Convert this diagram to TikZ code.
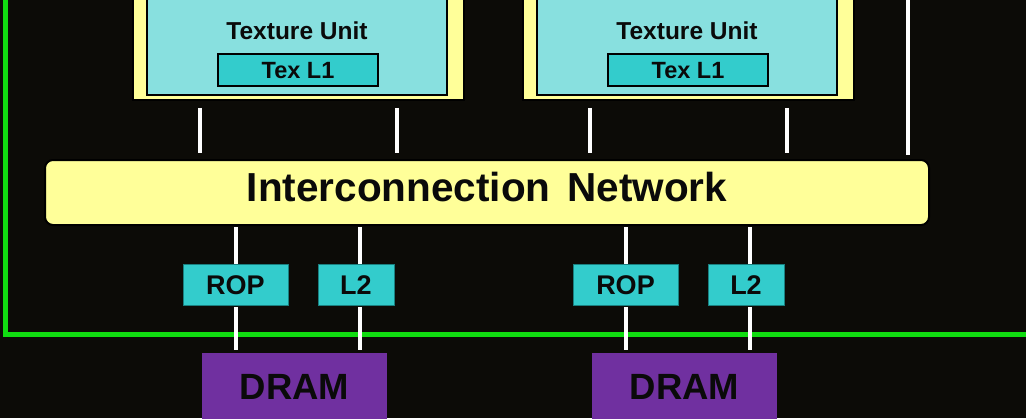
\documentclass[tikz,border=0pt]{standalone}
\usepackage{fontspec}
\setmainfont{Liberation Sans}
\definecolor{bgc}{HTML}{0C0B07}
\definecolor{netyel}{HTML}{FFFF99}
\definecolor{tucyan}{HTML}{88E0DF}
\definecolor{boxcyan}{HTML}{33CCCC}
\definecolor{boxedge}{HTML}{1A8080}
\definecolor{dramc}{HTML}{7030A0}
\definecolor{grn}{HTML}{11DD11}
\definecolor{txt}{HTML}{0A0A0A}
\tikzset{
  yelbox/.style={rectangle, fill=netyel, draw=black, line width=1.5pt, inner sep=0pt},
  cyanbox/.style={rectangle, fill=tucyan, draw=black, line width=1.5pt, inner sep=0pt},
  tulabel/.style={inner sep=0pt, text=txt, font=\bfseries\fontsize{24.5}{26}\selectfont, text height=17.5pt, text depth=0pt},
  l1box/.style={rectangle, fill=boxcyan, draw=black, line width=1.5pt, inner sep=0pt, text=txt, font=\bfseries\fontsize{23.5}{25}\selectfont, text height=16.8pt, text depth=0pt},
  cbox/.style={rectangle, fill=boxcyan, draw=boxedge, line width=0.8pt, inner sep=0pt, text=txt, font=\bfseries\fontsize{27}{29}\selectfont, text height=19.3pt, text depth=0pt},
  drambox/.style={rectangle, fill=dramc, inner sep=0pt, text=txt, font=\bfseries\fontsize{36.5}{39}\selectfont, text height=26.2pt, text depth=0pt},
  netbox/.style={rectangle, rounded corners=8pt, fill=netyel, draw=black, line width=2pt, inner sep=0pt, text=txt, font=\bfseries\fontsize{40.5}{42}\selectfont, text height=29pt, text depth=12pt},
  link/.style={draw=white, line width=3.5pt},
  greenline/.style={draw=grn, line width=5pt}
}
\begin{document}
\begin{tikzpicture}[x=1pt,y=-1pt]
\useasboundingbox (0,0) rectangle (1026,418);
\fill[bgc] (0,0) rectangle (1026,418);
\clip (0,0) rectangle (1026,418);

% green boundary
\coordinate (gtop) at (5,-10);
\coordinate (gcorner) at (5,334);
\coordinate (gright) at (1040,334);
\draw[greenline] (gtop) -- (gcorner) -- (gright);

% interconnection network
\node[netbox, minimum width=884pt, minimum height=65pt] (net) at (487,192.5) {Interconnection\hspace{0.14em} Network};

\foreach \i/\dx in {1/0,2/390}{
  \node[yelbox, minimum width=331pt, minimum height=140pt] (tuo\i) at (\dx+298.5,30) {};
  \node[cyanbox, minimum width=300pt, minimum height=135pt] (tui\i) at (\dx+297,27.5) {};
  \node[tulabel] (tul\i) at (\dx+297,31) {Texture Unit};
  \node[l1box, minimum width=160pt, minimum height=32pt] (lone\i) at (\dx+298,70) {Tex L1};
  \node[cbox, minimum width=105pt, minimum height=41pt] (rop\i) at (\dx+235.5,284.5) {ROP};
  \node[cbox, minimum width=76pt, minimum height=41pt] (ltwo\i) at (\dx+356,284.5) {L2};
  \node[drambox, minimum width=185pt, minimum height=67pt] (dram\i) at (\dx+294.5,386.5) {DRAM};
  \coordinate (xa\i) at (\dx+200,0);
  \coordinate (xb\i) at (\dx+397,0);
  \coordinate (xc\i) at (\dx+236,0);
  \coordinate (xd\i) at (\dx+360,0);
  \draw[link, shorten <=7pt, shorten >=6pt] (tuo\i.south -| xa\i) -- (net.north -| xa\i);
  \draw[link, shorten <=7pt, shorten >=6pt] (tuo\i.south -| xb\i) -- (net.north -| xb\i);
  \draw[link, shorten <=1pt] (net.south -| xc\i) -- (rop\i.north -| xc\i);
  \draw[link, shorten <=1pt] (net.south -| xd\i) -- (ltwo\i.north -| xd\i);
  \draw[link, shorten <=2pt, shorten >=3pt] (rop\i.south -| xc\i) -- (dram\i.north -| xc\i);
  \draw[link, shorten <=2pt, shorten >=3pt] (ltwo\i.south -| xd\i) -- (dram\i.north -| xd\i);
}
\coordinate (topend) at (908,-5);
\draw[link, shorten >=4pt] (topend) -- (net.north -| topend);
\end{tikzpicture}
\end{document}
